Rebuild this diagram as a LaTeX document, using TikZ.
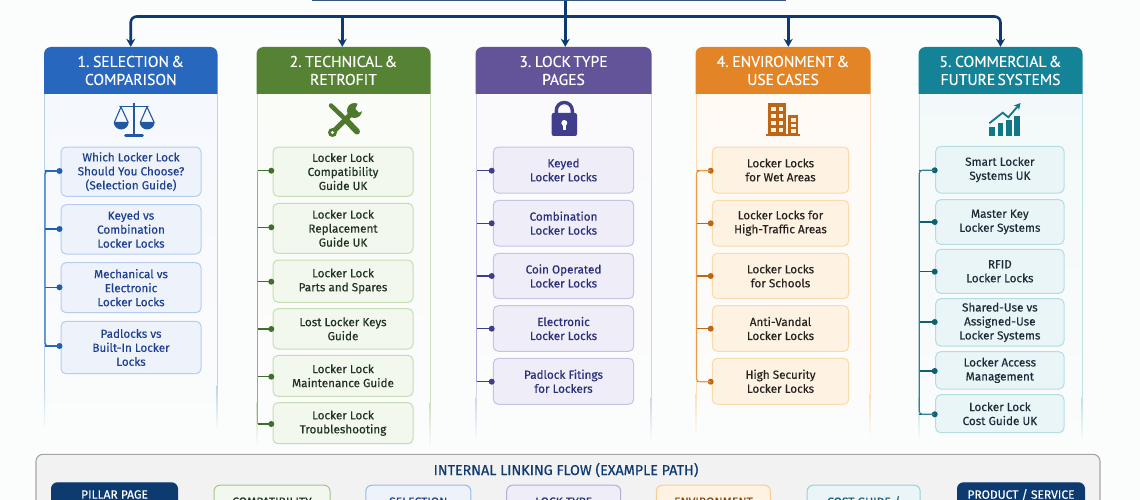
\documentclass[tikz,border=0pt]{standalone}
\usepackage{fontspec}
\setmainfont{Fira Sans}
\newfontfamily\bodyf{Fira Sans}[FakeBold=0.35]
\newfontfamily\headf{PT Sans}[FakeBold=0.35,WordSpace=0.55]
\usetikzlibrary{arrows.meta,calc}
\definecolor{bg}{HTML}{FBFCFC}
\definecolor{navy}{HTML}{0D3B70}
\definecolor{hA}{HTML}{2867BE}\definecolor{hB}{HTML}{568233}\definecolor{hC}{HTML}{63549A}\definecolor{hD}{HTML}{E38526}\definecolor{hE}{HTML}{158397}
\definecolor{pA}{HTML}{F5F8FD}\definecolor{pB}{HTML}{FAFCF8}\definecolor{pC}{HTML}{FAFAFD}\definecolor{pD}{HTML}{FFFAF4}\definecolor{pE}{HTML}{F3F9FA}
\definecolor{eA}{HTML}{BBD2EE}\definecolor{eB}{HTML}{CFE0C0}\definecolor{eC}{HTML}{D5D3EA}\definecolor{eD}{HTML}{FDDDB8}\definecolor{eE}{HTML}{BFE0E5}
\definecolor{fA}{HTML}{EEF3FB}\definecolor{fB}{HTML}{F3F8EF}\definecolor{fC}{HTML}{EFEDF7}\definecolor{fD}{HTML}{FEF3E3}\definecolor{fE}{HTML}{EAF5F7}
\definecolor{bA}{HTML}{B5CEF0}\definecolor{bB}{HTML}{C5DDB3}\definecolor{bC}{HTML}{C6C4E6}\definecolor{bD}{HTML}{FCD9A8}\definecolor{bE}{HTML}{B3DDE3}
\definecolor{tA}{HTML}{1F3F8F}\definecolor{tB}{HTML}{1F3320}\definecolor{tC}{HTML}{2A2F7A}\definecolor{tD}{HTML}{25221F}\definecolor{tE}{HTML}{1C2C38}
\definecolor{sA}{HTML}{1A5FB4}\definecolor{sB}{HTML}{3F6F28}\definecolor{sC}{HTML}{403D8C}\definecolor{sD}{HTML}{BF6516}\definecolor{sE}{HTML}{0F5F75}
\definecolor{lA}{HTML}{2F6FC0}\definecolor{lB}{HTML}{8FB574}\definecolor{lC}{HTML}{ABA9D6}\definecolor{lD}{HTML}{EE9A45}\definecolor{lE}{HTML}{2F8093}
\tikzset{
  hdr/.style={text=white,inner sep=0pt,align=center,font=\headf\fontsize{15.6}{18}\selectfont},
  item/.style={draw,line width=1pt,rounded corners=5pt,inner sep=0pt,align=center,font=\bodyf\fontsize{11.7}{14}\selectfont},
  itemA/.style={item,draw=bA,fill=fA,text=tA},
  itemB/.style={item,draw=bB,fill=fB,text=tB},
  itemC/.style={item,draw=bC,fill=fC,text=tC},
  itemD/.style={item,draw=bD,fill=fD,text=tD},
  itemE/.style={item,draw=bE,fill=fE,text=tE},
  dotmark/.style={circle,inner sep=0pt,minimum size=6pt},
  trunk/.style={draw=navy,line width=2.6pt,rounded corners=6pt},
  drop/.style={trunk,-{Stealth[length=8pt,width=9pt]}},
  flow/.style={draw,line width=1pt,rounded corners=6pt,inner sep=0pt,anchor=north,font=\bodyf\fontsize{12}{14}\selectfont},
}
\newcommand{\panelbox}[6]{%
  \shade[top color=#4,bottom color=bg] (#1,94) rectangle (#2,#3);
  \draw[#5,line width=1pt] (#1,94) -- (#1,#3-45);
  \draw[#5,line width=1pt] (#2,94) -- (#2,#3-45);
  \shade[top color=#5,bottom color=bg] (#1-0.5,#3-45) rectangle (#1+0.5,#3);
  \shade[top color=#5,bottom color=bg] (#2-0.5,#3-45) rectangle (#2+0.5,#3);
  \fill[#6] (#1-0.5,94) [rounded corners=7pt] -- (#1-0.5,47) -- (#2+0.5,47) [sharp corners] -- (#2+0.5,94) -- cycle;
}
% box with corners given: style name x0 y0 x1 y1 text
\newcommand{\itm}[7]{%
  \pgfmathsetmacro{\boxcx}{(#3+#5)/2}\pgfmathsetmacro{\boxcy}{(#4+#6)/2}%
  \pgfmathsetmacro{\boxw}{#5-#3}\pgfmathsetmacro{\boxh}{#6-#4}%
  \node[#1,minimum width=\boxw pt,minimum height=\boxh pt] (#2) at (\boxcx,\boxcy) {#7};}
\newcommand{\dotstub}[3]{%
  \node[dotmark,fill=#3] (#1) at (\dotx,#2) {};
  \draw[#3,line width=1.5pt] (#1.center) -- (#1.center -| \spx,0);}
\begin{document}
\begin{tikzpicture}[x=1pt,y=-1pt]
\useasboundingbox (0,0) rectangle (1140,500);
\fill[bg] (0,0) rectangle (1140,500);
\node[draw=navy!85!white,fill=white,line width=1.5pt,minimum width=473pt,minimum height=40pt,anchor=south,inner sep=0pt] (root) at (549,0.6) {};
\panelbox{44.5}{217}{430}{pA}{eA}{hA}
\panelbox{257}{430}{447}{pB}{eB}{hB}
\panelbox{476}{651}{442}{pC}{eC}{hC}
\panelbox{696}{870}{438}{pD}{eD}{hD}
\panelbox{919}{1082}{442}{pE}{eE}{hE}
\itm{hdr}{h1}{44.5}{47}{217}{94}{1. SELECTION \&\\COMPARISON}
\itm{hdr}{h2}{257}{47}{430}{94}{2. TECHNICAL \&\\RETROFIT}
\itm{hdr}{h3}{476}{47}{651}{94}{3. LOCK TYPE\\PAGES}
\itm{hdr}{h4}{696}{47}{870}{94}{4. ENVIRONMENT \&\\USE CASES}
\itm{hdr}{h5}{919}{47}{1082}{94}{5. COMMERCIAL \&\\FUTURE SYSTEMS}
\coordinate (bus) at (565.3,16.5);
\draw[trunk] (root.south -| bus) -- (bus);
\draw[drop] (bus) -| (h1.north);
\draw[drop] (bus) -| (h5.north);
\draw[drop,rounded corners=0pt] ([xshift=-1.2pt]h2.north |- bus) -- ([xshift=-1.2pt]h2.north);
\draw[drop,rounded corners=0pt] (bus) -- ([xshift=1.8pt]h3.north);
\draw[drop,rounded corners=0pt] ([xshift=5.3pt]h4.north |- bus) -- ([xshift=5.3pt]h4.north);
% icons
\begin{scope}[hA!85!black]
  \draw[line width=2.4pt] (134,103) -- (134,135);
  \draw[line width=2.6pt,line cap=round] (125.5,135.5) -- (142.5,135.5);
  \draw[line width=1.8pt,line cap=round] (120,106.5) -- (148,106.5);
  \draw[line width=1.1pt] (114.5,122) -- (121,107) -- (128,122) (140.5,122) -- (147,107) -- (154,122);
  \fill (113.7,122) arc[start angle=180,end angle=0,radius=7.5];
  \fill (139.7,122) arc[start angle=180,end angle=0,radius=7.5];
\end{scope}
\begin{scope}[hB!92!black,line cap=round]
  \draw[line width=4.5pt] (331,105.5) -- (343,117);
  \draw[line width=6pt] (347,121) -- (357,131.5);
  \draw[line width=5pt] (333,132) -- (355,110);
  \fill (332.5,132.5) circle (4.5);
  \fill[bg] (332.5,132.5) circle (1.6);
  \fill (354.5,110.5) circle (7.5);
  \fill[bg] (358.5,102) -- (355.5,109) -- (359,112.5) -- (366,109) -- (366,102) -- cycle;
\end{scope}
\begin{scope}[sC]
  \draw[line width=3.4pt] (556.3,114) -- (556.3,110.5) arc[start angle=180,end angle=360,radius=8] -- (572.3,114);
  \fill[rounded corners=2pt] (551.7,113) rectangle (577,136);
  \fill[white] (564.3,123) circle (3);
  \fill[white] (563,124) rectangle (565.6,130.5);
\end{scope}
\begin{scope}[sD]
  \fill (768,103) rectangle (786,135);
  \fill (788,115) rectangle (798,135);
  \fill (765.7,134.5) rectangle (800,136.5);
  \foreach \yy in {107,114,121,128} {
    \fill[fD] (771,\yy) rectangle (775.5,\yy+4.5);
    \fill[fD] (778.5,\yy) rectangle (783,\yy+4.5);
  }
  \foreach \yy in {118.5,124,129.5} {
    \fill[fD] (790.5,\yy) rectangle (795.5,\yy+3.2);
  }
\end{scope}
\begin{scope}[hE!90!black]
  \fill (989.3,127.3) rectangle (995,135.7);
  \fill (997.7,123.3) rectangle (1003.3,135.7);
  \fill (1006,120) rectangle (1011.7,135.7);
  \fill (1014.3,115.7) rectangle (1020,135.7);
  \draw[line width=1.8pt,-{Stealth[length=6.5pt,width=7pt]}] (989.3,123.3) -- (1002.7,112.7) -- (1008.3,117.3) -- (1020.5,103);
\end{scope}
% column 1
\itm{itemA}{a1}{61}{147}{201}{196.3}{Which Locker Lock\\Should You Choose?\\(Selection Guide)}
\itm{itemA}{a2}{61}{204.7}{201}{254}{Keyed vs\\Combination\\Locker Locks}
\itm{itemA}{a3}{61}{262.7}{201}{312.7}{Mechanical vs\\Electronic\\Locker Locks}
\itm{itemA}{a4}{61}{321.3}{201}{373.7}{Padlocks vs\\Built-In Locker\\Locks}
\def\dotx{59.5}\def\spx{45}
\dotstub{da1}{171}{sA}\dotstub{da2}{229}{sA}\dotstub{da3}{287.3}{sA}\dotstub{da4}{346}{sA}
\draw[lA,line width=1.3pt,rounded corners=3pt] (da1.center) -- (da1.center -| \spx,0) -- (da4.center -| \spx,0) -- (da4.center);
% column 2
\itm{itemB}{b1}{273}{147}{413}{196.3}{Locker Lock\\Compatibility\\Guide UK}
\itm{itemB}{b2}{273}{203.3}{413}{253.3}{Locker Lock\\Replacement\\Guide UK}
\itm{itemB}{b3}{273}{260}{413}{302.3}{Locker Lock\\Parts and Spares}
\itm{itemB}{b4}{273}{308.7}{413}{349}{Lost Locker Keys\\Guide}
\itm{itemB}{b5}{273}{355.3}{413}{396.3}{Locker Lock\\Maintenance Guide}
\itm{itemB}{b6}{273}{402.7}{413}{443.7}{Locker Lock\\Troubleshooting}
\def\dotx{271.3}\def\spx{257.5}
\dotstub{db1}{170.7}{sB}\dotstub{db2}{227.3}{sB}\dotstub{db3}{281.7}{sB}\dotstub{db4}{329}{sB}\dotstub{db5}{376.7}{sB}\dotstub{db6}{424}{sB}
\draw[lB,line width=1.1pt] (db1.center -| \spx,0) -- (db6.center -| \spx,0);
% column 3
\itm{itemC}{c1}{493.3}{147}{633.7}{193}{Keyed\\Locker Locks}
\itm{itemC}{c2}{493.3}{200.3}{633.7}{246}{Combination\\Locker Locks}
\itm{itemC}{c3}{493.3}{253.3}{633.7}{298.7}{Coin Operated\\Locker Locks}
\itm{itemC}{c4}{493.3}{305.7}{633.7}{351.3}{Electronic\\Locker Locks}
\itm{itemC}{c5}{493.3}{358.3}{633.7}{404.3}{Padlock Fitings\\for Lockers}
\def\dotx{491.7}\def\spx{476.5}
\dotstub{dc1}{170.7}{sC}\dotstub{dc2}{223.3}{sC}\dotstub{dc3}{276}{sC}\dotstub{dc4}{328.7}{sC}\dotstub{dc5}{381.7}{sC}
\draw[lC,line width=1.1pt] (dc1.center -| \spx,0) -- (dc5.center -| \spx,0);
% column 4
\itm{itemD}{d1}{712.3}{147}{848.7}{193}{Locker Locks\\for Wet Areas}
\itm{itemD}{d2}{712.3}{200.3}{848.7}{246}{Locker Locks for\\High-Traffic Areas}
\itm{itemD}{d3}{712.3}{253.3}{848.7}{298.7}{Locker Locks\\for Schools}
\itm{itemD}{d4}{712.3}{305.7}{848.7}{351.3}{Anti-Vandal\\Locker Locks}
\itm{itemD}{d5}{712.3}{358.3}{848.7}{404.3}{High Security\\Locker Locks}
\def\dotx{710.7}\def\spx{696.5}
\dotstub{dd1}{170.7}{sD}\dotstub{dd2}{223.3}{sD}\dotstub{dd3}{276}{sD}\dotstub{dd4}{328.7}{sD}\dotstub{dd5}{381.7}{sD}
\draw[lD,line width=1.2pt,rounded corners=3pt] (dd1.center) -- (dd1.center -| \spx,0) -- (dd5.center -| \spx,0) -- (dd5.center);
% column 5
\itm{itemE}{e1}{935.7}{146.3}{1064}{193}{Smart Locker\\Systems UK}
\itm{itemE}{e2}{935.7}{199.7}{1064}{244.3}{Master Key\\Locker Systems}
\itm{itemE}{e3}{935.7}{249.3}{1064}{293.3}{RFID\\Locker Locks}
\itm{itemE}{e4}{935.7}{298.7}{1064}{346}{Shared-Use vs\\Assigned-Use\\Locker Systems}
\itm{itemE}{e5}{935.7}{351.7}{1064}{389}{Locker Access\\Management}
\itm{itemE}{e6}{935.7}{394.7}{1064}{432.7}{Locker Lock\\Cost Guide UK}
\def\dotx{934.7}\def\spx{919.3}
\dotstub{de1}{170.3}{sE}\dotstub{de2}{222}{sE}\dotstub{de3}{271.7}{sE}\dotstub{de4}{322}{sE}\dotstub{de5}{371}{sE}\dotstub{de6}{414.3}{sE}
\draw[lE,line width=1.2pt,rounded corners=3pt] (de1.center) -- (de1.center -| \spx,0) -- (de6.center -| \spx,0) -- (de6.center);
% linking-flow panel
\draw[draw=black!35,fill=black!5,line width=1.1pt,rounded corners=7pt] (36,454.3) rectangle (1100,540);
\node[text=navy,inner sep=0pt,font=\bodyf\fontsize{14.3}{16}\selectfont] (flowtitle) at (566,470) {INTERNAL LINKING FLOW (EXAMPLE PATH)};
\node[flow,draw=navy,fill=navy,text=white,minimum width=126pt,minimum height=23.4pt] (f1) at (114.5,482.3) {PILLAR PAGE};
\node[flow,draw=bB!70!hB,fill=fB,text=tB,minimum width=116pt,minimum height=33pt] (f2) at (272,484.7) {COMPATIBILITY};
\node[flow,draw=bA!80!hA,fill=fA,text=tA,minimum width=105pt,minimum height=33pt] (f3) at (418.3,484.7) {SELECTION};
\node[flow,draw=bC!80!hC,fill=fC,text=tC,minimum width=114pt,minimum height=33pt] (f4) at (563.7,484.7) {LOCK TYPE};
\node[flow,draw=bD!85!hD,fill=fD,text=sD!70!black,minimum width=114pt,minimum height=33pt] (f5) at (713.4,484.7) {ENVIRONMENT};
\node[flow,draw=bE!85!hE,fill=fE,text=sE,minimum width=113pt,minimum height=33pt] (f6) at (863.7,484.7) {COST GUIDE /};
\node[flow,draw=navy,fill=navy,text=white,minimum width=127pt,minimum height=23.4pt] (f7) at (1021,482.3) {PRODUCT / SERVICE};
\end{tikzpicture}
\end{document}
